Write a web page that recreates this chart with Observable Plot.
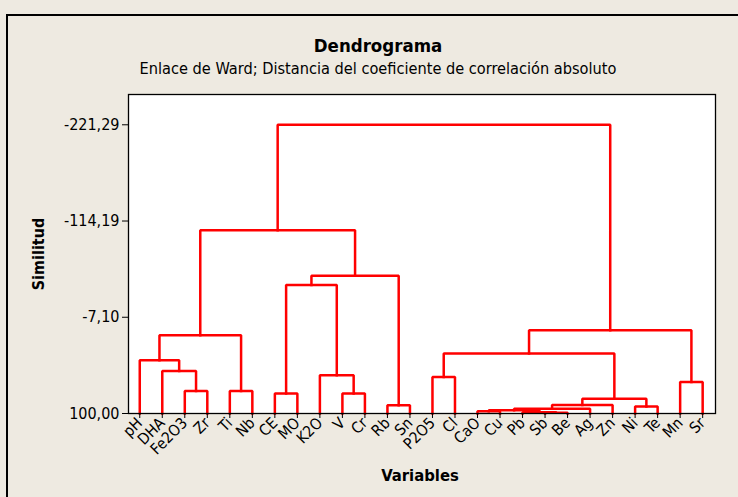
<!DOCTYPE html>
<html><head><meta charset="utf-8">
<script src="https://cdn.jsdelivr.net/npm/d3@7"></script>
<script src="https://cdn.jsdelivr.net/npm/@observablehq/plot@0.6"></script>
<style>
html,body{margin:0;padding:0;background:#EEEAE1;}
#wrap{position:relative;width:738px;height:497px;overflow:hidden;font-family:"DejaVu Sans Condensed","DejaVu Sans",sans-serif;color:#000;}
#border{position:absolute;left:6px;top:14px;width:900px;height:700px;border-left:2px solid #000;border-top:2px solid #000;}
.t{position:absolute;left:0;width:756px;text-align:center;line-height:1;white-space:nowrap;}
#title{top:37px;font-weight:bold;font-size:18.5px;}
#subtitle{top:61px;font-size:16.2px;}
#xlab{position:absolute;left:370px;width:100px;text-align:center;top:468px;font-weight:bold;font-size:16.5px;line-height:1;}
#ylab{position:absolute;left:-6px;top:246px;width:90px;height:16px;text-align:center;transform:rotate(-90deg);font-weight:bold;font-size:16px;line-height:1;}
#plot{position:absolute;left:0;top:0;}
</style></head>
<body>
<div id="wrap">
  <div id="border"></div>
  <div id="plot"></div>
  <div class="t" id="title">Dendrograma</div>
  <div class="t" id="subtitle">Enlace de Ward; Distancia del coeficiente de correlación absoluto</div>
  <div id="ylab">Similitud</div>
  <div id="xlab">Variables</div>
</div>
<script>
// Leaves in dendrogram order
const leaves = ["pH","DHA","Fe2O3","Zr","Ti","Nb","CE","MO","K2O","V","Cr","Rb","Sn","P2O5","Cl","CaO","Cu","Pb","Sb","Be","Ag","Zn","Ni","Te","Mn","Sr"];
// Merge steps: m1 ... m25 (left child, right child, similarity level)
const mergeA = ["Fe2O3","DHA","pH","Ti","m3","CE","V","K2O","m6","Rb","m9","m5","P2O5","Sb","Pb","CaO","m16","m17","m18","Ni","m19","m13","Mn","m22","m12"];
const mergeB = ["Zr","m1","m2","Nb","m4","MO","Cr","m7","m8","Sn","m10","m11","Cl","Be","m14","Cu","m15","Ag","Zn","Te","m20","m21","Sr","m23","m24"];
const mergeSim = [74.9,52.6,40.7,75.0,13.0,77.8,77.8,57.4,-42.9,90.8,-53.2,-103.9,59.3,99.1,98.6,97.4,96.3,94.7,90.6,92.2,83.7,33.3,64.9,7.4,-221.29];
// Y axis tick labels
const yTicks = [100.00,-7.10,-114.19,-221.29];
const leafSim = 100;

const nodes = new Map();
leaves.forEach((name,i)=>nodes.set(name,{x:i,s:leafSim}));
const segs = [];
mergeSim.forEach((s,i)=>{
  const a = nodes.get(mergeA[i]), b = nodes.get(mergeB[i]);
  segs.push({g:i,x:a.x,y:a.s},{g:i,x:a.x,y:s},{g:i,x:b.x,y:s},{g:i,x:b.x,y:b.s});
  nodes.set("m"+(i+1),{x:(a.x+b.x)/2,s});
});

const fmt = d => d.toFixed(2).replace(".",",");

const chart = Plot.plot({
  width:738, height:497,
  marginLeft:128, marginRight:23, marginTop:94, marginBottom:84,
  style:{background:"transparent",fontFamily:"'DejaVu Sans Condensed','DejaVu Sans',sans-serif",fontSize:"16px",color:"#000",overflow:"visible"},
  x:{type:"linear",domain:[-0.5,25.57]},
  y:{type:"linear",domain:[100,-255]},
  marks:[
    Plot.frame({fill:"white",stroke:null}),
    Plot.line(segs,{x:"x",y:"y",z:"g",stroke:"#ff0000",strokeWidth:2.5,strokeLinejoin:"miter",strokeLinecap:"square"}),
    Plot.frame({stroke:"#000",strokeWidth:1.3}),
    Plot.axisY({ticks:yTicks,tickFormat:fmt,tickSize:6,tickPadding:3,label:null,fontSize:16}),
    Plot.axisX({ticks:d3.range(leaves.length),tickFormat:i=>leaves[i],tickRotate:-45,tickSize:5,tickPadding:2,label:null,fontSize:15.5})
  ]
});
document.getElementById("plot").appendChild(chart);
</script>
</body></html>
